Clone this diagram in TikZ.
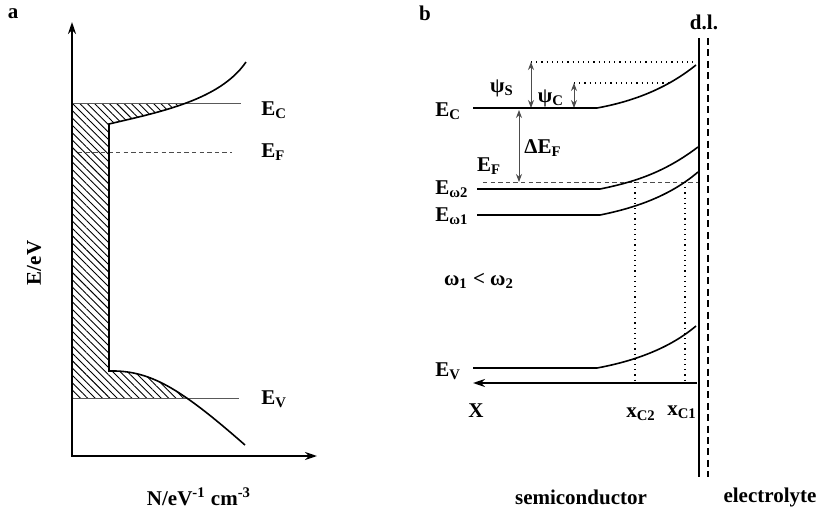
\documentclass[tikz,border=0pt]{standalone}
\usepackage{fontspec}
\setmainfont{Liberation Serif}
\usetikzlibrary{arrows.meta,patterns.meta}

\begin{document}
\begin{tikzpicture}[
  x=0.5pt,y=-0.5pt,
  >={Stealth[length=6pt,width=4pt]},
  lbl/.style={font=\fontsize{10.5}{12}\selectfont\bfseries,inner sep=1pt},
  axis/.style={line width=1pt},
  band/.style={line width=0.8pt},
  level/.style={line width=0.5pt,gray!70!black},
  fermi/.style={line width=0.5pt,gray!60!black,dash pattern=on 2.2pt off 1.6pt},
  guide/.style={dotted,line width=0.6pt},
  darr/.style={{Stealth[length=4pt,width=3pt]}-{Stealth[length=4pt,width=3pt]},
               line width=0.4pt,gray!60!black}
]
\useasboundingbox (0,0) rectangle (821,509);

% ---- panel a: density of states
\node[lbl] (la) at (13,14) {a};
\begin{scope}
  \clip (72,103) rectangle (300,398);
  \fill[pattern={Lines[angle=-45,distance=2.6pt,line width=0.45pt]}]
    (72,40) -- (246,40) -- (246,62) .. controls (220,100) and (160,112) .. (109,124)
    -- (109,371) .. controls (150,370) and (180,388) .. (245,445)
    -- (245,470) -- (72,470) -- cycle;
\end{scope}
\draw[level] (72,103) -- (241,103);
\draw[fermi] (78,152) -- (232,152);
\draw[level] (72,398) -- (239,398);
\draw[band] (246,62) .. controls (220,100) and (160,112) .. (109,124)
  -- (109,371) .. controls (150,370) and (180,388) .. (245,445);
\draw[axis,<->] (72,22) -- (72,456) -- (317,456);
\node[lbl,anchor=west] (eca) at (259,110) {E\textsubscript{C}};
\node[lbl,anchor=west] (efa) at (259,152) {E\textsubscript{F}};
\node[lbl,anchor=west] (eva) at (259,399) {E\textsubscript{V}};
\node[lbl,rotate=90] (yax) at (34,263) {E/eV};
\node[lbl] (xax) at (199,497) {N/eV\textsuperscript{-1} cm\textsuperscript{-3}};

% ---- panel b: band bending
\node[lbl] (lb) at (425,13) {b};
\node[lbl] (dl) at (704,22) {d.l.};
\draw[line width=0.7pt] (699,38) -- (699,477);
\draw[line width=0.7pt,dash pattern=on 3.5pt off 2.2pt] (708,38) -- (708,477);

\coordinate (psis-top) at (531,62);
\coordinate (psis-bot) at (531,108);
\coordinate (psic-top) at (574,83);
\coordinate (psic-bot) at (574,108);
\coordinate (def-top) at (519,110);
\coordinate (def-bot) at (519,182);
\draw[guide] (psis-top) -- (695,62);
\draw[guide] (psic-top) -- (670,83);
\draw[darr] (psis-top) -- (psis-bot);
\draw[darr] (psic-top) -- (psic-bot);
\draw[darr] (def-top) -- (def-bot);

\draw[band] (473,108) -- (597,108) .. controls (630,102) and (665,90) .. (696,65);
\draw[fermi] (483,182) -- (698,182);
\draw[band] (477,189) -- (600,189) .. controls (635,182) and (665,172) .. (698,147);
\draw[band] (477,215) -- (600,215) .. controls (635,208) and (670,196) .. (698,172);
\draw[band] (473,368) -- (597,368) .. controls (635,361) and (670,348) .. (696,326);
\draw[guide] (635,182) -- (635,383);
\draw[guide] (685,182) -- (685,383);
\draw[axis,->] (697,383) -- (473,383);

\node[lbl] (psis) at (502,88) {ψ\textsubscript{S}};
\node[lbl] (psic) at (551,98) {ψ\textsubscript{C}};
\node[lbl] (def) at (543,148) {ΔE\textsubscript{F}};
\node[lbl] (efb) at (489,166) {E\textsubscript{F}};
\node[lbl,anchor=west] (ecb) at (433,111) {E\textsubscript{C}};
\node[lbl,anchor=west] (ew2) at (433,189) {E\textsubscript{ω2}};
\node[lbl,anchor=west] (ew1) at (433,216) {E\textsubscript{ω1}};
\node[lbl,anchor=west] (evb) at (433,371) {E\textsubscript{V}};
\node[lbl] (cmp) at (479,281) {ω\textsubscript{1} < ω\textsubscript{2}};
\node[lbl] (xb) at (476,411) {X};
\node[lbl] (xc2) at (641,414) {x\textsubscript{C2}};
\node[lbl] (xc1) at (682,412) {x\textsubscript{C1}};
\node[lbl] (sc) at (581,497) {semiconductor};
\node[lbl] (el) at (770,497) {electrolyte};
\end{tikzpicture}
\end{document}
